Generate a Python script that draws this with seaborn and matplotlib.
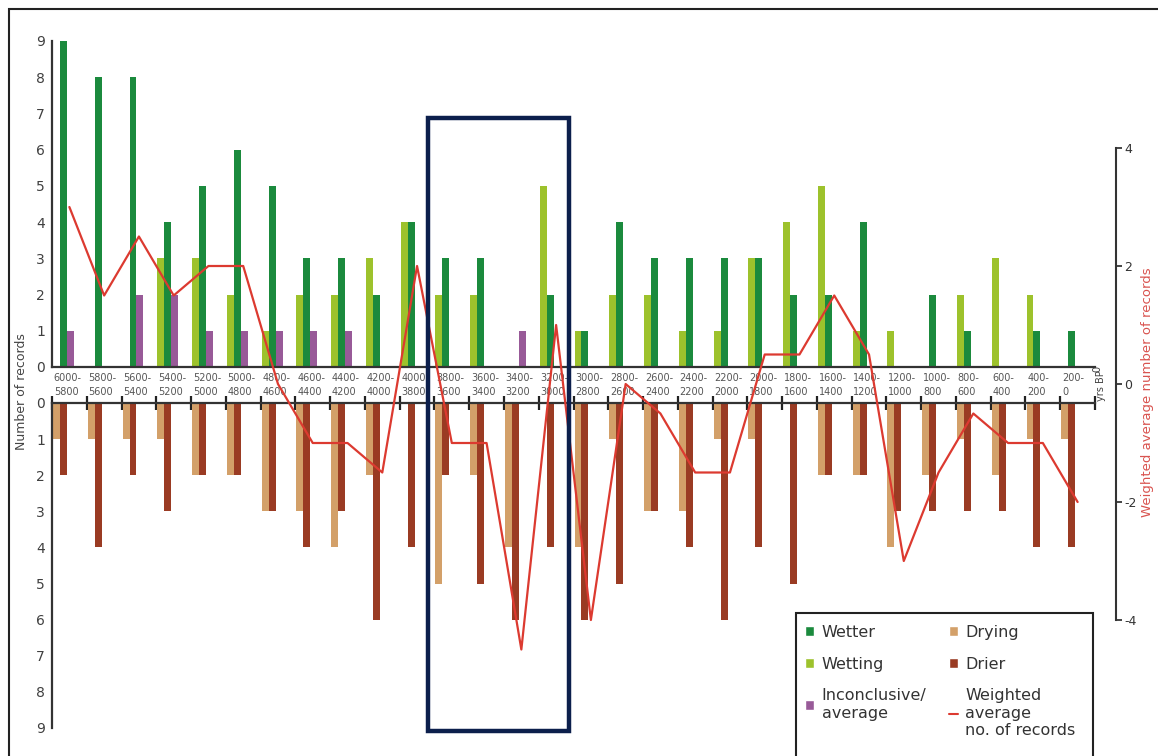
import numpy as np
import pandas as pd
import matplotlib
matplotlib.use("Agg")
import matplotlib.pyplot as plt
import seaborn as sns
from matplotlib.patches import Rectangle, Patch
from matplotlib.lines import Line2D
from matplotlib.transforms import blended_transform_factory

# ---------------- data ----------------
periods = ["6000-\n5800", "5800-\n5600", "5600-\n5400", "5400-\n5200", "5200-\n5000",
           "5000-\n4800", "4800-\n4600", "4600-\n4400", "4400-\n4200", "4200-\n4000",
           "4000-\n3800", "3800-\n3600", "3600-\n3400", "3400-\n3200", "3200-\n3000",
           "3000-\n2800", "2800-\n2600", "2600-\n2400", "2400-\n2200", "2200-\n2000",
           "2000-\n1800", "1800-\n1600", "1600-\n1400", "1400-\n1200", "1200-\n1000",
           "1000-\n800", "800-\n600", "600-\n400", "400-\n200", "200-\n0"]
wetting = [0, 0, 0, 3, 3, 2, 1, 2, 2, 3, 4, 2, 2, 0, 5, 1, 2, 2, 1, 1, 3, 4, 5, 1, 1, 0, 2, 3, 2, 0]
wetter = [9, 8, 8, 4, 5, 6, 5, 3, 3, 2, 4, 3, 3, 0, 2, 1, 4, 3, 3, 3, 3, 2, 2, 4, 0, 2, 1, 0, 1, 1]
inconclusive = [1, 0, 2, 2, 1, 1, 1, 1, 1, 0, 0, 0, 0, 1, 0, 0, 0, 0, 0, 0, 0, 0, 0, 0, 0, 0, 0, 0, 0, 0]
drying = [1, 1, 1, 1, 2, 2, 3, 3, 4, 2, 0, 5, 2, 4, 0, 4, 1, 3, 3, 1, 1, 0, 2, 2, 4, 2, 1, 2, 1, 1]
drier = [2, 4, 2, 3, 2, 2, 3, 4, 3, 6, 4, 2, 5, 6, 4, 6, 5, 3, 4, 6, 4, 5, 2, 2, 3, 3, 3, 3, 4, 4]
weighted = [3, 1.5, 2.5, 1.5, 2, 2, 0, -1, -1, -1.5, 2, -1, -1, -4.5, 1, -4, 0, -0.5, -1.5, -1.5,
            0.5, 0.5, 1.5, 0.5, -3, -1.5, -0.5, -1, -1, -2]
left_ticks = [0, 1, 2, 3, 4, 5, 6, 7, 8, 9]
right_ticks = [-4, -2, 0, 2, 4]

C_WETTER = "#1b8a3d"
C_WETTING = "#9dc22c"
C_INCONC = "#985a98"
C_DRYING = "#d3a069"
C_DRIER = "#9a3b23"
C_LINE = "#dc3a30"

up_df = pd.DataFrame({
    "period": periods * 3,
    "kind": ["Wetting"] * 30 + ["Wetter"] * 30 + ["Inconclusive"] * 30,
    "count": wetting + wetter + inconclusive,
})
lo_df = pd.DataFrame({
    "period": periods * 2,
    "kind": ["Drying"] * 30 + ["Drier"] * 30,
    "count": drying + drier,
})
line_df = pd.DataFrame({"pos": np.arange(len(periods)), "avg": weighted})

sns.set_style("white")
plt.rcParams["font.family"] = ["DejaVu Sans"]

W, H = 1158, 756
fig = plt.figure(figsize=(W / 100, H / 100), dpi=100)


def fx(px):
    return px / W


def fy(py):
    return 1 - py / H


X0, X1 = 52, 1095
CAT = (X1 - X0) / 30.0

ax_up = fig.add_axes([fx(X0), fy(367), (X1 - X0) / W, (367 - 41) / H])
ax_lo = fig.add_axes([fx(X0), fy(728), (X1 - X0) / W, (728 - 403) / H])
ax_ln = fig.add_axes([fx(X0), fy(620), (1116 - X0) / W, (620 - 148) / H])
for a in (ax_up, ax_lo, ax_ln):
    a.set_facecolor("none")

# ---------------- upper bars ----------------
sns.barplot(data=up_df, x="period", y="count", hue="kind", order=periods,
            hue_order=["Wetting", "Wetter", "Inconclusive"],
            palette={"Wetting": C_WETTING, "Wetter": C_WETTER, "Inconclusive": C_INCONC},
            width=0.6, saturation=1, errorbar=None, legend=False, linewidth=0, ax=ax_up)
ax_up.set_xlim(-0.33, 29.67)
ax_up.set_ylim(0, 9)
ax_up.set_yticks(left_ticks)
ax_up.set_yticklabels([str(t) for t in left_ticks])
ax_up.set_xticks(np.arange(31) - 0.33)
ax_up.set_xticklabels([])
ax_up.set_xlabel("")
ax_up.set_ylabel("")
for s in ("top", "right"):
    ax_up.spines[s].set_visible(False)
for s in ("left", "bottom"):
    ax_up.spines[s].set_linewidth(1.6)
    ax_up.spines[s].set_color("#333333")
ax_up.tick_params(axis="x", direction="inout", length=10, width=1.6, color="#222222")
ax_up.tick_params(axis="y", direction="out", length=4, width=1.2, color="#333333",
                  labelsize=10, labelcolor="#404040", pad=1)

# ---------------- lower bars ----------------
sns.barplot(data=lo_df, x="period", y="count", hue="kind", order=periods,
            hue_order=["Drying", "Drier"],
            palette={"Drying": C_DRYING, "Drier": C_DRIER},
            width=0.4, saturation=1, errorbar=None, legend=False, linewidth=0, ax=ax_lo)
ax_lo.set_xlim(-0.23, 29.77)
ax_lo.set_ylim(9, 0)
ax_lo.set_yticks(left_ticks)
ax_lo.set_yticklabels([str(t) for t in left_ticks])
ax_lo.xaxis.tick_top()
ax_lo.set_xticks(np.arange(31) - 0.23)
ax_lo.set_xticklabels([])
ax_lo.set_xlabel("")
ax_lo.set_ylabel("")
for s in ("bottom", "right"):
    ax_lo.spines[s].set_visible(False)
for s in ("left", "top"):
    ax_lo.spines[s].set_linewidth(1.6)
    ax_lo.spines[s].set_color("#333333")
ax_lo.tick_params(axis="x", direction="inout", length=10, width=1.6, color="#222222")
ax_lo.tick_params(axis="y", direction="out", length=4, width=1.2, color="#333333",
                  labelsize=10, labelcolor="#404040", pad=1)

# period labels in the band between the two panels
trans = blended_transform_factory(ax_up.transData, fig.transFigure)
for k, lab in enumerate(periods):
    ax_up.text(k - 0.33 + 0.05, fy(385), lab, transform=trans, ha="left", va="center",
               fontsize=7, color="#555555", linespacing=1.45, clip_on=False)

# ---------------- weighted average line ----------------
sns.lineplot(data=line_df, x="pos", y="avg", color=C_LINE, linewidth=1.6, ax=ax_ln)
for ln in ax_ln.get_lines():
    ln.set_clip_on(False)
ax_ln.set_xlim(-0.5, -0.5 + (1116 - X0) / CAT)
ax_ln.set_ylim(-4, 4)
ax_ln.yaxis.tick_right()
ax_ln.set_yticks(right_ticks)
ax_ln.set_yticklabels([str(t) for t in right_ticks])
ax_ln.set_xticks([])
ax_ln.set_xlabel("")
ax_ln.set_ylabel("")
for s in ("top", "left", "bottom"):
    ax_ln.spines[s].set_visible(False)
ax_ln.spines["right"].set_linewidth(1.5)
ax_ln.spines["right"].set_color("#333333")
ax_ln.tick_params(axis="y", direction="out", length=4, width=1.2, labelsize=9,
                  labelcolor="#333333", pad=2)

# ---------------- axis titles ----------------
fig.text(fx(22), fy(392), "Number of records", rotation=90, ha="center", va="center",
         fontsize=9, color="#444444")
fig.text(fx(1148), fy(392), "Weighted average number of records", rotation=90,
         ha="center", va="center", fontsize=9.5, color="#d9534f")
fig.text(fx(1101), fy(386), "yrs BP", rotation=90, ha="center", va="center",
         fontsize=7, color="#444444")
fig.text(fx(1097), fy(369), "0", rotation=90, ha="center", va="center",
         fontsize=7, color="#444444")

# ---------------- legend ----------------
handles = [Patch(facecolor=C_WETTER), Patch(facecolor=C_WETTING), Patch(facecolor=C_INCONC),
           Patch(facecolor=C_DRYING), Patch(facecolor=C_DRIER),
           Line2D([0], [0], color=C_LINE, linewidth=1.5)]
labels = ["Wetter", "Wetting", "Inconclusive/\naverage", "Drying", "Drier",
          "Weighted\naverage\nno. of records"]
leg = fig.legend(handles, labels, loc="upper left", bbox_to_anchor=(fx(800), fy(620)),
                 ncol=2, fontsize=11.5, frameon=False,
                 handlelength=0.6, handleheight=0.6,
                 handletextpad=0.45, columnspacing=1.4, labelspacing=1.05,
                 borderpad=0.3, borderaxespad=0)
for t in leg.get_texts():
    t.set_color("#333333")
    t.set_linespacing(1.2)
fig.add_artist(Rectangle((fx(796), fy(790)), (1093 - 796) / W, (790 - 613) / H,
                         transform=fig.transFigure, fill=False, edgecolor="#222222",
                         linewidth=1.5, zorder=15))

# ---------------- highlight box & outer frame ----------------
fig.add_artist(Rectangle((fx(428), fy(731)), (569 - 428) / W, (731 - 118) / H,
                         transform=fig.transFigure, fill=False, edgecolor="#0c1f4c",
                         linewidth=3.2, zorder=20))
fig.add_artist(Rectangle((fx(9), fy(790)), (1200 - 9) / W, (790 - 9) / H,
                         transform=fig.transFigure, fill=False, edgecolor="#222222",
                         linewidth=1.5, zorder=1))

fig.savefig("out.png", dpi=100)
